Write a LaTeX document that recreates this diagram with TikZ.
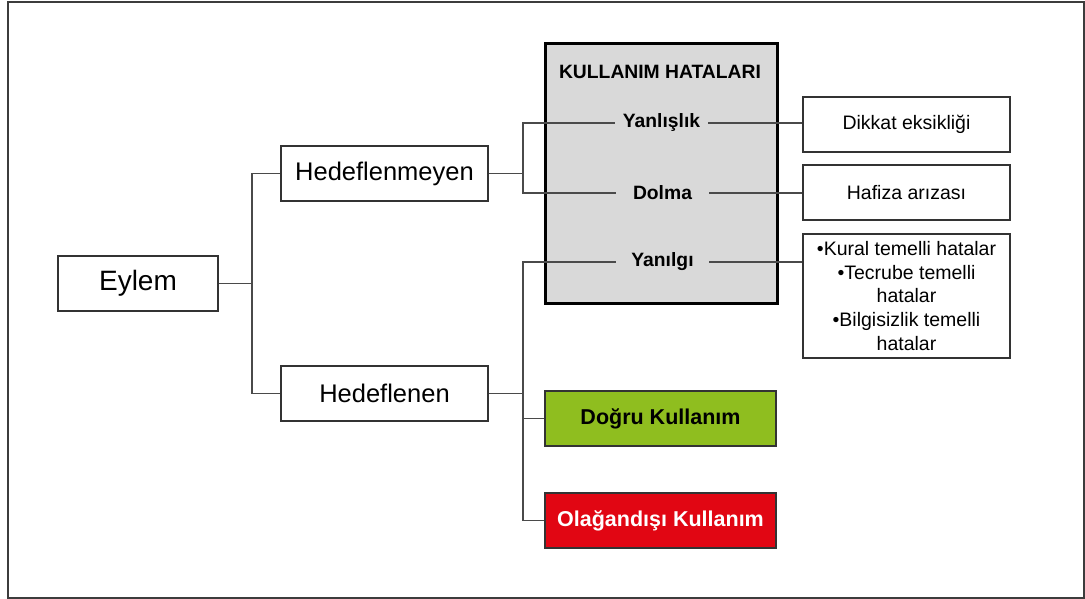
\documentclass[tikz,border=0pt]{standalone}
\usepackage{fontspec}
\setmainfont{Liberation Sans}
\definecolor{boxline}{HTML}{333333}
\definecolor{connline}{HTML}{4A4A4A}
\definecolor{framecol}{HTML}{3C3C3C}
\definecolor{panelgray}{HTML}{D9D9D9}
\definecolor{okgreen}{HTML}{8FBE1F}
\definecolor{badred}{HTML}{E10613}
\begin{document}
\begin{tikzpicture}[x=1pt,y=-1pt,
  box/.style={draw=boxline, line width=1.6pt, rectangle, inner sep=0pt,
              minimum height=55pt, text=black},
  bigtext/.style={font=\fontsize{25.5}{30}\selectfont},
  smalltext/.style={font=\fontsize{19.5}{23.75}\selectfont},
  boldlabel/.style={font=\bfseries\fontsize{19.3}{23}\selectfont, inner sep=0pt},
  errlabel/.style={boldlabel, minimum width=93pt, minimum height=20pt},
  usebox/.style={box, minimum width=231pt, font=\bfseries\fontsize{21.5}{26}\selectfont},
  conn/.style={draw=connline, line width=1.8pt}]
\useasboundingbox (0,0) rectangle (1085,599);
% outer frame
\draw[framecol, line width=1.5pt] (8,2) rectangle (1084,598);

% main tree
\node[box, minimum width=160pt, font=\fontsize{28}{32}\selectfont] (eylem) at (138,283.5) {Eylem};
\node[box, bigtext, minimum width=207pt] (hmeyen) at (384.5,173.5) {Hedeflenmeyen};
\node[box, bigtext, minimum width=207pt] (hen) at (384.5,393.5) {Hedeflenen};

% error panel
\node[draw=black, line width=3pt, fill=panelgray, rectangle, inner sep=0pt,
      minimum width=232pt, minimum height=259pt] (hata) at (661,173.5) {};
\node[boldlabel] (baslik) at (660,72) {KULLANIM HATALARI};
\node[errlabel] (yanlislik) at (661.5,123) {Yanlışlık};
\node[errlabel] (dolma) at (662.5,193) {Dolma};
\node[errlabel] (yanilgi) at (662.5,262) {Yanılgı};

% error details
\node[box, smalltext, minimum width=207pt] (dikkat) at (906.5,124.5) {Dikkat eksikliği};
\node[box, smalltext, minimum width=207pt] (hafiza) at (906.5,192.5) {Hafiza arızası};
\node[box, smalltext, minimum width=207pt, minimum height=124pt, align=center] (turler) at (906.5,296)
  {•Kural temelli hatalar\\ •Tecrube temelli\\ hatalar\\ •Bilgisizlik temelli\\ hatalar};

% use outcomes
\node[usebox, fill=okgreen] (dogru) at (660.5,418.5) {Doğru Kullanım};
\node[usebox, fill=badred, text=white] (olagan) at (660.5,520.5) {Olağandışı Kullanım};

% junction points
\coordinate (j1) at (252,283.5);
\coordinate (j2) at (523,173.5);
\coordinate (j3) at (523,393.5);

% connectors
\draw[conn] (eylem.east) -- (j1);
\draw[conn] (hmeyen.west) -| (j1);
\draw[conn] (hen.west) -| (j1);
\draw[conn] (hmeyen.east) -- (j2);
\draw[conn] (yanlislik.west) -| (j2);
\draw[conn] (dolma.west) -| (j2);
\draw[conn] (hen.east) -- (j3);
\draw[conn] (yanilgi.west) -| (j3);
\draw[conn] (dogru.west) -| (j3);
\draw[conn] (olagan.west) -| (j3);
\draw[conn] (yanlislik.east) -- (dikkat.west |- yanlislik.east);
\draw[conn] (dolma.east) -- (hafiza.west |- dolma.east);
\draw[conn] (yanilgi.east) -- (turler.west |- yanilgi.east);
\end{tikzpicture}
\end{document}
